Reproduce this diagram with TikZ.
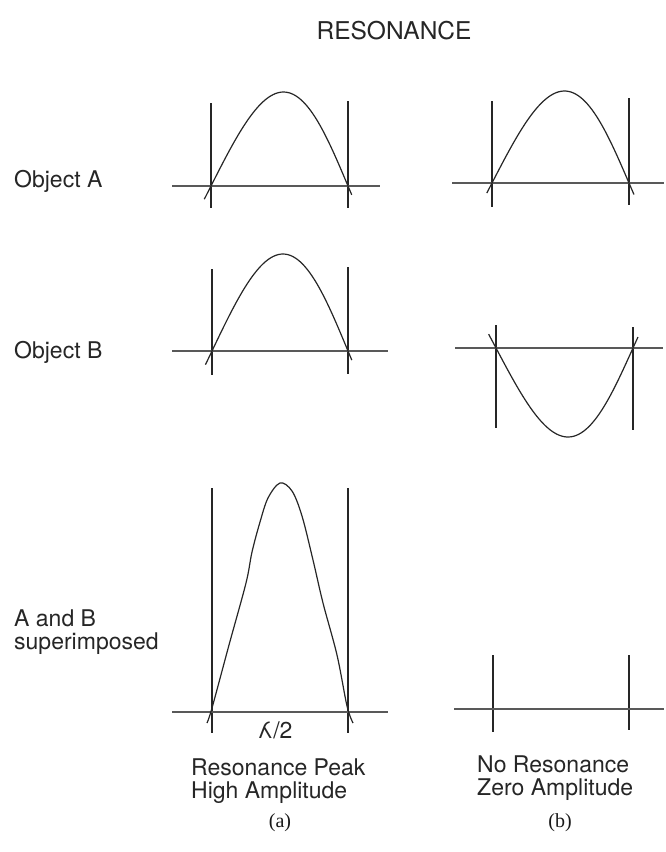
\documentclass[tikz,border=0pt]{standalone}
\usepackage{fontspec}
\setsansfont{TeX Gyre Heros}
\newfontfamily\capserif{Liberation Serif}
\usepackage{graphicx}
\newcommand\hwave[7]{% x0, x1, ybase, amp, tstart, tend, skew
  \draw[wave] plot[variable=\t, domain=#5:#6, samples=60, smooth]
    ({#1+(#2-#1)*\t + #7*sin(180*\t)}, {#3 - #4*sin(180*\t)});}
\begin{document}
\begin{tikzpicture}[x=1pt,y=-1pt,
  lab/.style={font=\sffamily\fontsize{23}{22.5}\selectfont, inner sep=0pt, text=black!85},
  ttl/.style={font=\sffamily\fontsize{24.5}{26}\selectfont, inner sep=0pt, text=black!85},
  sub/.style={font=\capserif\fontsize{20}{22}\selectfont, inner sep=0pt, text=black!90},
  vline/.style={line width=1.2pt, draw=black!85},
  hline/.style={line width=1.2pt, draw=black!65},
  wave/.style={line width=1.2pt, draw=black!85},
]
\useasboundingbox (0,0) rectangle (665,852);

% title
\node[ttl] (title) at (394,31) {RESONANCE};

% row labels
\node[lab, anchor=base west] (objA) at (14,187) {Object A};
\node[lab, anchor=base west] (objB) at (14,358) {Object B};
\node[lab, anchor=north west, align=left] (ab) at (14,610) {A and B\\superimposed};

% ---- Object A (a)
\coordinate (aA1) at (211,103); \coordinate (aA2) at (211,208);
\coordinate (aA3) at (348,101); \coordinate (aA4) at (348,208);
\coordinate (aA5) at (172,186); \coordinate (aA6) at (380,186);
\draw[vline] (aA1) -- (aA2);
\draw[vline] (aA3) -- (aA4);
\draw[hline] (aA5) -- (aA6);
\hwave{211}{348}{186}{94}{-0.045}{1.03}{4}

% ---- Object A (b)
\coordinate (bA1) at (492,101); \coordinate (bA2) at (492,207);
\coordinate (bA3) at (629,98); \coordinate (bA4) at (629,205);
\coordinate (bA5) at (452,183); \coordinate (bA6) at (664,183);
\draw[vline] (bA1) -- (bA2);
\draw[vline] (bA3) -- (bA4);
\draw[hline] (bA5) -- (bA6);
\hwave{492}{629}{183}{92}{-0.035}{1.04}{4}

% ---- Object B (a)
\coordinate (aB1) at (212,269); \coordinate (aB2) at (212,375);
\coordinate (aB3) at (348,267); \coordinate (aB4) at (348,374);
\coordinate (aB5) at (172,351); \coordinate (aB6) at (388,351);
\draw[vline] (aB1) -- (aB2);
\draw[vline] (aB3) -- (aB4);
\draw[hline] (aB5) -- (aB6);
\hwave{212}{348}{351}{97}{-0.045}{1.03}{3}

% ---- Object B (b)
\coordinate (bB1) at (496,325); \coordinate (bB2) at (496,428);
\coordinate (bB3) at (633,327); \coordinate (bB4) at (633,430);
\coordinate (bB5) at (455,348); \coordinate (bB6) at (663,348);
\draw[vline] (bB1) -- (bB2);
\draw[vline] (bB3) -- (bB4);
\draw[hline] (bB5) -- (bB6);
\hwave{496}{633}{348}{-89}{-0.05}{1.04}{3.5}

% ---- superimposed (a)
\coordinate (aS1) at (212,488); \coordinate (aS2) at (212,733);
\coordinate (aS3) at (348,488); \coordinate (aS4) at (348,733);
\coordinate (aS5) at (172,712); \coordinate (aS6) at (388,712);
\draw[vline] (aS1) -- (aS2);
\draw[vline] (aS3) -- (aS4);
\draw[hline] (aS5) -- (aS6);
\draw[wave] plot[smooth, tension=0.55] coordinates {
  (207,723) (212,708) (229,645) (246,583) (252,552) (260,522) (268,498)
  (280,483) (292,491) (302,516) (313,560) (323,603) (337,655) (347,706) (353,723)};
\node[lab, anchor=center] (lam) at (275,730) {\reflectbox{λ}/2};

% ---- superimposed (b)
\coordinate (bS1) at (493,655); \coordinate (bS2) at (493,732);
\coordinate (bS3) at (629,655); \coordinate (bS4) at (629,730);
\coordinate (bS5) at (454,709); \coordinate (bS6) at (664,709);
\draw[vline] (bS1) -- (bS2);
\draw[vline] (bS3) -- (bS4);
\draw[hline] (bS5) -- (bS6);

% captions
\node[lab, anchor=north west, align=left] (capa) at (191,759) {Resonance Peak\\High Amplitude};
\node[lab, anchor=north west, align=left] (capb) at (477,756) {No Resonance\\Zero Amplitude};
\node[sub] (pa) at (280,823) {(a)};
\node[sub] (pb) at (560,823) {(b)};
\end{tikzpicture}
\end{document}
